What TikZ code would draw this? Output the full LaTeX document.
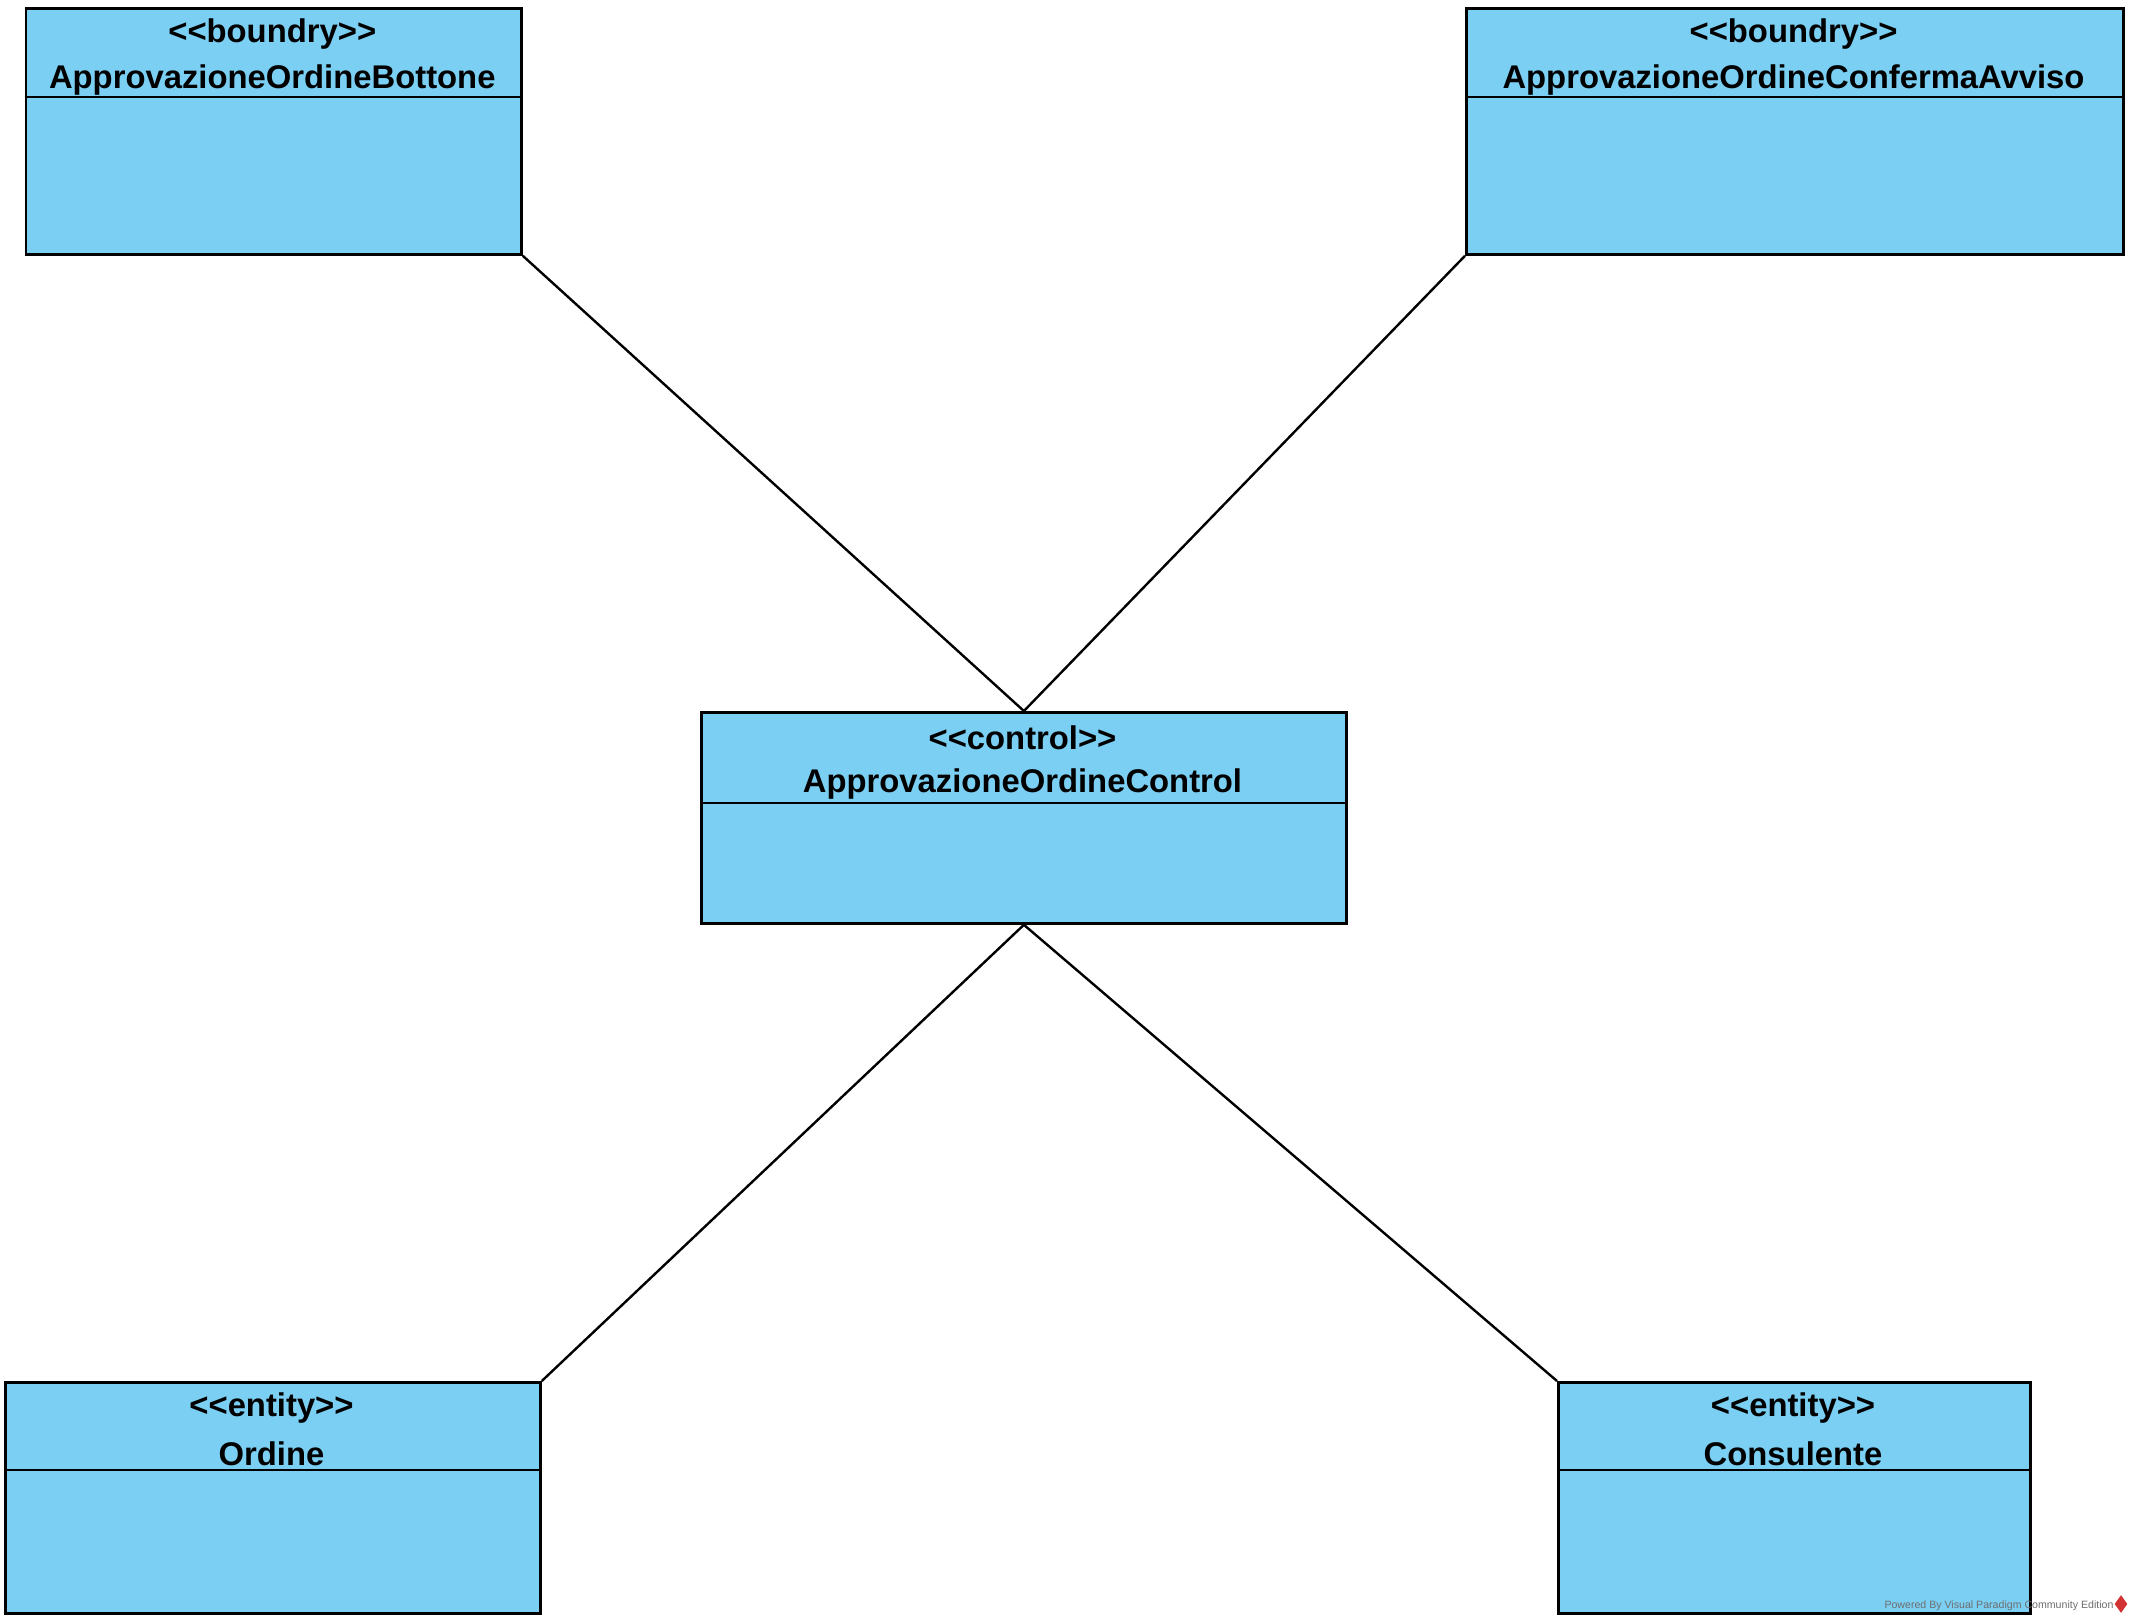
\documentclass[tikz,border=0pt]{standalone}
\usepackage{fontspec}
\setmainfont{Liberation Sans}
\usetikzlibrary{shapes.geometric}
\definecolor{classblue}{RGB}{122,207,243}
\definecolor{vpred}{RGB}{210,50,50}
\definecolor{wmgray}{RGB}{110,110,110}
\tikzset{
  classbox/.style={draw=black, line width=1.4pt, fill=classblue, rectangle, anchor=north west, inner sep=0pt},
  classtext/.style={font=\fontsize{16.4pt}{19pt}\selectfont\bfseries, inner sep=0pt, anchor=center},
  divider/.style={line width=1.4pt},
  assoc/.style={line width=1.2pt, draw=black},
}
\newcommand{\umlclass}[8]{%
  \node[classbox, minimum width={(#4-#2)*0.5pt}, minimum height={(#5-#3)*0.5pt}] (#1) at (#2,#3) {};
  \node[classtext] (#1-st) at ({(#2+#4)/2},{#3+27}) {<{}<#7>{}>};
  \node[classtext] (#1-nm) at ({(#2+#4)/2},{#3+73}) {#8};
  \draw[divider] (#1.west |- 0,#6) -- (#1.east |- 0,#6);
}
\begin{document}
\begin{tikzpicture}[x=0.5pt, y=-0.5pt]
  \useasboundingbox (0,0) rectangle (2133,1623);
  \fill[white] (0,0) rectangle (2133,1623);
  \umlclass{tl}{24.5}{7}{520}{253}{97}{boundry}{ApprovazioneOrdineBottone}
  \umlclass{tr}{1465}{7}{2122}{253}{97}{boundry}{ApprovazioneOrdineConfermaAvviso}
  \umlclass{ctrl}{700}{711}{1345}{922}{803}{control}{ApprovazioneOrdineControl}
  \umlclass{ord}{4}{1381}{539}{1612}{1470}{entity}{Ordine}
  \umlclass{cons}{1557}{1381}{2029}{1612}{1470}{entity}{Consulente}
  \draw[assoc] (tl.south east) -- (ctrl.north);
  \draw[assoc] (tr.south west) -- (ctrl.north);
  \draw[assoc] (ctrl.south) -- (ord.north east);
  \draw[assoc] (ctrl.south) -- (cons.north west);
  % watermark
  \node[font=\fontsize{5.3pt}{6pt}\selectfont, text=wmgray, inner sep=0pt] (wm) at (1999,1606) {Powered By Visual Paradigm Community Edition};
  \node[diamond, fill=vpred, inner sep=0pt, minimum width=6.5pt, minimum height=9pt] (logo) at (2121,1604) {};
\end{tikzpicture}
\end{document}
